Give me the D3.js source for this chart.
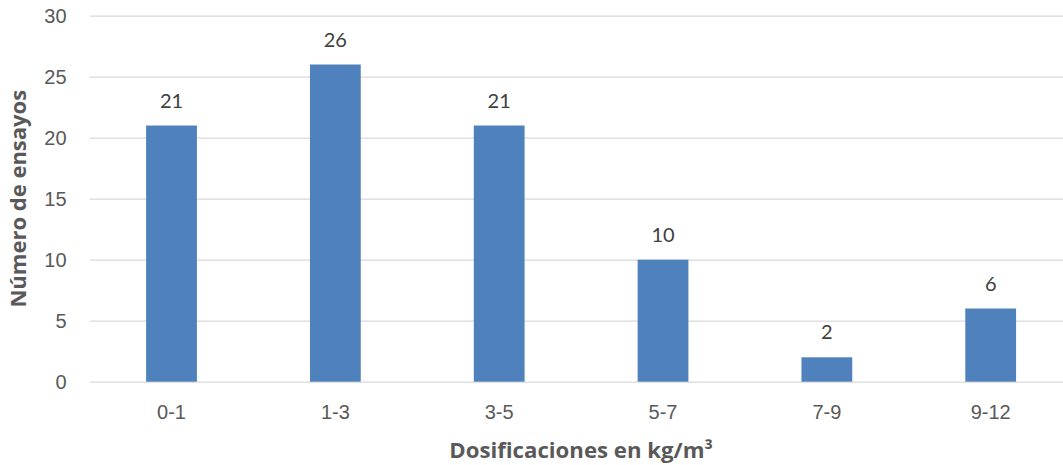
<!DOCTYPE html>
<html>
<head>
<meta charset="utf-8">
<script src="https://cdn.jsdelivr.net/npm/d3@7/dist/d3.min.js"></script>
<style>
  html, body { margin: 0; padding: 0; background: #fff; }
  svg { display: block; font-family: Lato, "Open Sans", sans-serif; }
  .axis-title { font-family: "Open Sans", Lato, sans-serif; }
</style>
</head>
<body>
<svg id="chart" width="1063" height="465"></svg>
<script>
// Ensayos por rango de dosificación
const categories = ["0-1", "1-3", "3-5", "5-7", "7-9", "9-12"];
const values = [21, 26, 21, 10, 2, 6];
const yTicks = [0, 5, 10, 15, 20, 25, 30];
const xTitle = "Dosificaciones en kg/m³";
const yTitle = "Número de ensayos";

const svg = d3.select("#chart");

const plot = { left: 89.6, right: 1072.6, top: 15.7, bottom: 381.7 };

const x = d3.scaleBand()
  .domain(categories)
  .range([plot.left, plot.right])
  .paddingInner(0.69)
  .paddingOuter(0.345);

const y = d3.scaleLinear()
  .domain([0, 30])
  .range([plot.bottom, plot.top]);

// horizontal gridlines with value ticks
const yAxis = d3.axisLeft(y)
  .tickValues(yTicks)
  .tickSize(-(plot.right - plot.left))
  .tickPadding(23)
  .tickFormat(d3.format("d"));

const gy = svg.append("g")
  .attr("transform", `translate(${plot.left},0)`)
  .call(yAxis);
gy.select(".domain").remove();
gy.selectAll(".tick line")
  .attr("stroke", "#d9d9d9")
  .attr("stroke-width", 1.3);
gy.selectAll(".tick text")
  .attr("fill", "#595959")
  .attr("font-size", 20)
  .attr("dy", "0.36em");

// bars
svg.append("g")
  .selectAll("rect")
  .data(values)
  .join("rect")
  .attr("x", (d, i) => x(categories[i]))
  .attr("width", x.bandwidth())
  .attr("y", d => y(d))
  .attr("height", d => y(0) - y(d))
  .attr("fill", "#4f81bd");

// value labels
svg.append("g")
  .selectAll("text")
  .data(values)
  .join("text")
  .attr("x", (d, i) => x(categories[i]) + x.bandwidth() / 2)
  .attr("y", d => y(d) - 18)
  .attr("text-anchor", "middle")
  .attr("fill", "#404040")
  .attr("font-size", 20)
  .text(d => d);

// category axis
const xAxis = d3.axisBottom(x).tickSize(0).tickPadding(23);
const gx = svg.append("g")
  .attr("transform", `translate(0,${plot.bottom})`)
  .call(xAxis);
gx.select(".domain").remove();
gx.selectAll(".tick text")
  .attr("fill", "#595959")
  .attr("font-size", 20);

// axis titles
svg.append("text")
  .attr("class", "axis-title")
  .attr("x", (plot.left + plot.right) / 2)
  .attr("y", 458)
  .attr("text-anchor", "middle")
  .attr("fill", "#595959")
  .attr("font-size", 22.2)
  .attr("font-weight", "bold")
  .text(xTitle);

svg.append("text")
  .attr("class", "axis-title")
  .attr("transform", `translate(25.5,${(plot.top + plot.bottom) / 2}) rotate(-90)`)
  .attr("text-anchor", "middle")
  .attr("fill", "#595959")
  .attr("font-size", 22)
  .attr("font-weight", "bold")
  .text(yTitle);
</script>
</body>
</html>
